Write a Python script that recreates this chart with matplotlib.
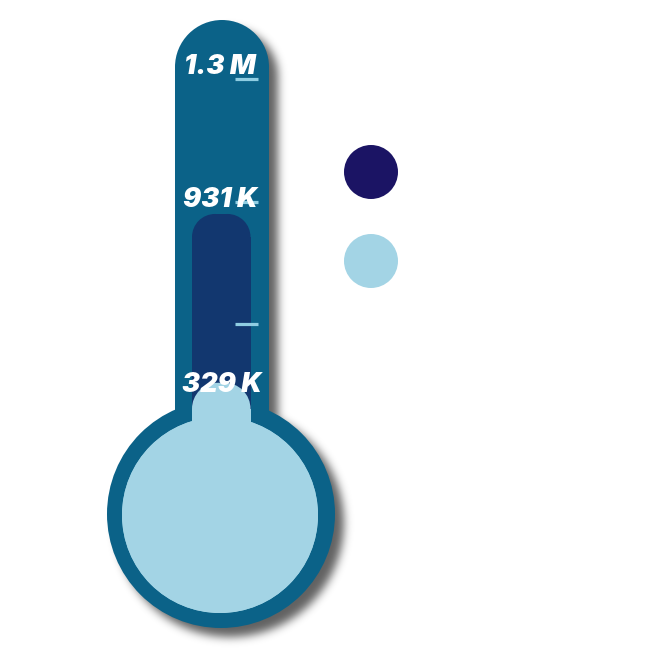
import numpy as np
import matplotlib
matplotlib.use("Agg")
import matplotlib.pyplot as plt
from matplotlib.patches import Circle, Rectangle, Ellipse
from matplotlib.collections import PatchCollection

# ---- data ----
MAX_VALUE = 1_300_000
TARGET_VALUE = 931_000
CURRENT_VALUE = 329_000
LABELS = ["1.3 M", "931 K", "329 K"]
LEGEND_COLORS = ["#1b1464", "#a3d4e5"]

TUBE = "#0b6288"
NAVY = "#12376f"
LIGHT = "#a3d4e5"
TICK = "#8fcde2"

W, H = 651, 650
fig = plt.figure(figsize=(W / 100, H / 100), dpi=100)

# frame axes in pixel units (y down)
ax = fig.add_axes([0, 0, 1, 1])
ax.set_xlim(0, W)
ax.set_ylim(H, 0)
ax.axis("off")

# value axes: spans 0..MAX along the tube
v_bottom_px, v_top_px = 475, 110.5
vax = fig.add_axes([0, 1 - v_bottom_px / H, 1, (v_bottom_px - v_top_px) / H])
vax.set_xlim(0, W)
vax.set_ylim(0, MAX_VALUE)
vax.axis("off")
vax.patch.set_alpha(0)
val_per_px = MAX_VALUE / (v_bottom_px - v_top_px)


def blur_filter(sigma, pad, alpha):
    r = int(3 * sigma)
    xs = np.arange(-r, r + 1)
    k = np.exp(-xs ** 2 / (2 * sigma ** 2))
    k /= k.sum()

    def f(im, dpi):
        a = np.pad(im[:, :, 3], pad)
        for axis in (0, 1):
            out = np.zeros_like(a)
            for s, w in zip(xs, k):
                out += w * np.roll(a, s, axis=axis)
            a = out
        res = np.zeros(a.shape + (4,))
        res[..., 3] = a * alpha
        return res, -pad, -pad
    return f


tube_cx, tube_r, tube_top, tube_bot = 222, 47, 20, 500
bulb_c, bulb_r = (221, 514), 114
inner_c, inner_r = (220, 515), 98


def thermo_shape(dx=0, dy=0):
    return [Rectangle((tube_cx - tube_r + dx, tube_top + tube_r + dy), 2 * tube_r, tube_bot - tube_top - tube_r),
            Circle((tube_cx + dx, tube_top + tube_r + dy), tube_r),
            Circle((bulb_c[0] + dx, bulb_c[1] + dy), bulb_r)]


# shadow
shadow = PatchCollection(thermo_shape(9, 9), facecolor="black", edgecolor="none")
shadow.set_agg_filter(blur_filter(4.5, 20, 0.62))
shadow.set_rasterized(True)
ax.add_collection(shadow)

# tube and bulb
ax.add_collection(PatchCollection(thermo_shape(), facecolor=TUBE, edgecolor="none"))
ax.add_patch(Circle(inner_c, inner_r, fc=LIGHT, ec="none"))

# fills in value axes (rounded-top bars)
bar_x0, bar_w, bar_r = 192, 58.5, 23


def rounded_bar(x0, w, top, r, color):
    ry = r * val_per_px
    parts = [Rectangle((x0, 0), w, top - ry),
             Rectangle((x0 + r, 0), w - 2 * r, top),
             Ellipse((x0 + r, top - ry), 2 * r, 2 * ry),
             Ellipse((x0 + w - r, top - ry), 2 * r, 2 * ry)]
    vax.add_collection(PatchCollection(parts, facecolor=color, edgecolor="none",
                                       clip_on=False, antialiased=True))


rounded_bar(bar_x0, bar_w, TARGET_VALUE, bar_r, NAVY)
rounded_bar(bar_x0, bar_w, CURRENT_VALUE, bar_r + 3, LIGHT)
vax.add_patch(Circle(inner_c, inner_r, fc=LIGHT, ec="none", transform=ax.transData, clip_on=False))

# ticks (decorative)
for ty in np.linspace(79, 324, 3):
    vax.plot([235, 258], [ty, ty], color=TICK, lw=2.3, solid_capstyle="butt",
             transform=ax.transData, clip_on=False)

# labels
font = dict(family=["Inter", "DejaVu Sans"], weight=900, style="italic",
            color="white", fontsize=19.5, ha="center", va="center")
vax.text(220, 67, LABELS[0], transform=ax.transData, **font)
vax.annotate(LABELS[1], (220, TARGET_VALUE), xytext=(0, 14), textcoords="offset pixels", **font)
vax.annotate(LABELS[2], (222, CURRENT_VALUE), xytext=(0, -2), textcoords="offset pixels", **font)

# legend markers
for i, c in enumerate(LEGEND_COLORS):
    ax.add_patch(Circle((371, 172 + 89 * i), 27, fc=c, ec="none"))

fig.savefig("out.png", dpi=100)
